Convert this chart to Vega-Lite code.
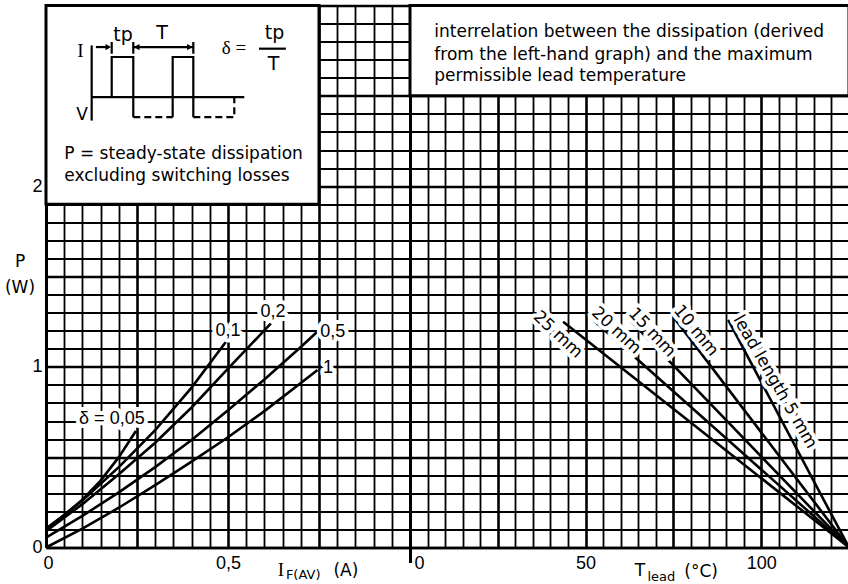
{
  "$schema": "https://vega.github.io/schema/vega-lite/v6.json",
  "background": "white",
  "padding": {"left": 4, "top": 3.5, "right": 0, "bottom": 0},
  "bounds": "flush",
  "spacing": 0,
  "config": {
    "view": {"stroke": null},
    "axis": {"gridColor": "black", "gridOpacity": 1, "domainColor": "black", "labelColor": "black", "labelFont": "Liberation Sans", "labelFontSize": 18, "ticks": false, "labelFlush": false, "labelOverlap": false, "tickCount": 200}
  },
  "datasets": {
    "curves": [
      {"d": "1", "I": 0, "P": 0}, {"d": "1", "I": 0.1, "P": 0.105}, {"d": "1", "I": 0.2, "P": 0.22}, {"d": "1", "I": 0.3, "P": 0.345}, {"d": "1", "I": 0.4, "P": 0.475}, {"d": "1", "I": 0.5, "P": 0.61}, {"d": "1", "I": 0.6, "P": 0.755}, {"d": "1", "I": 0.7, "P": 0.91}, {"d": "1", "I": 0.746, "P": 0.983},
      {"d": "0.5", "I": 0, "P": 0.055}, {"d": "0.5", "I": 0.1, "P": 0.175}, {"d": "0.5", "I": 0.2, "P": 0.305}, {"d": "0.5", "I": 0.3, "P": 0.445}, {"d": "0.5", "I": 0.4, "P": 0.595}, {"d": "0.5", "I": 0.5, "P": 0.76}, {"d": "0.5", "I": 0.6, "P": 0.93}, {"d": "0.5", "I": 0.7, "P": 1.11}, {"d": "0.5", "I": 0.746, "P": 1.196},
      {"d": "0.2", "I": 0, "P": 0.09}, {"d": "0.2", "I": 0.1, "P": 0.24}, {"d": "0.2", "I": 0.2, "P": 0.405}, {"d": "0.2", "I": 0.3, "P": 0.58}, {"d": "0.2", "I": 0.4, "P": 0.775}, {"d": "0.2", "I": 0.5, "P": 0.99}, {"d": "0.2", "I": 0.618, "P": 1.24},
      {"d": "0.1", "I": 0, "P": 0.1}, {"d": "0.1", "I": 0.1, "P": 0.26}, {"d": "0.1", "I": 0.2, "P": 0.445}, {"d": "0.1", "I": 0.3, "P": 0.65}, {"d": "0.1", "I": 0.4, "P": 0.885}, {"d": "0.1", "I": 0.495, "P": 1.14},
      {"d": "0.05", "I": 0, "P": 0.105}, {"d": "0.05", "I": 0.05, "P": 0.18}, {"d": "0.05", "I": 0.1, "P": 0.265}, {"d": "0.05", "I": 0.15, "P": 0.37}, {"d": "0.05", "I": 0.2, "P": 0.5}, {"d": "0.05", "I": 0.247, "P": 0.645}
    ],
    "leads": [
      {"lead": "25 mm", "T": 43.6, "P": 1.25}, {"lead": "25 mm", "T": 125, "P": 0},
      {"lead": "20 mm", "T": 52.4, "P": 1.255}, {"lead": "20 mm", "T": 125, "P": 0},
      {"lead": "15 mm", "T": 63, "P": 1.25}, {"lead": "15 mm", "T": 125, "P": 0},
      {"lead": "10 mm", "T": 75.2, "P": 1.27}, {"lead": "10 mm", "T": 125, "P": 0},
      {"lead": "5 mm", "T": 90.6, "P": 1.26}, {"lead": "5 mm", "T": 125, "P": 0}
    ],
    "frameL": [{"x1": 0, "x2": 0.75, "y1": 1.9, "y2": 3.0}],
    "frameR": [{"x1": 0, "x2": 125, "y1": 2.5, "y2": 3.0}],
    "inset": [
      {"seg": "axis", "kind": "s", "k": 0, "x": 0.1255, "y": 2.779}, {"seg": "axis", "kind": "s", "k": 1, "x": 0.1255, "y": 2.363},
      {"seg": "base", "kind": "s", "k": 0, "x": 0.1255, "y": 2.493}, {"seg": "base", "kind": "s", "k": 1, "x": 0.5448, "y": 2.493},
      {"seg": "p1", "kind": "s", "k": 0, "x": 0.1805, "y": 2.493}, {"seg": "p1", "kind": "s", "k": 1, "x": 0.1805, "y": 2.715}, {"seg": "p1", "kind": "s", "k": 2, "x": 0.2398, "y": 2.715}, {"seg": "p1", "kind": "s", "k": 3, "x": 0.2398, "y": 2.382},
      {"seg": "p2", "kind": "s", "k": 0, "x": 0.348, "y": 2.382}, {"seg": "p2", "kind": "s", "k": 1, "x": 0.348, "y": 2.715}, {"seg": "p2", "kind": "s", "k": 2, "x": 0.4047, "y": 2.715}, {"seg": "p2", "kind": "s", "k": 3, "x": 0.4047, "y": 2.382},
      {"seg": "d1", "kind": "d", "k": 0, "x": 0.2398, "y": 2.382}, {"seg": "d1", "kind": "d", "k": 1, "x": 0.348, "y": 2.382},
      {"seg": "d2", "kind": "d", "k": 0, "x": 0.4047, "y": 2.382}, {"seg": "d2", "kind": "d", "k": 1, "x": 0.5173, "y": 2.382}, {"seg": "d2", "kind": "d", "k": 2, "x": 0.5173, "y": 2.493},
      {"seg": "t1", "kind": "s", "k": 0, "x": 0.1805, "y": 2.798}, {"seg": "t1", "kind": "s", "k": 1, "x": 0.1805, "y": 2.733},
      {"seg": "t2", "kind": "s", "k": 0, "x": 0.2398, "y": 2.798}, {"seg": "t2", "kind": "s", "k": 1, "x": 0.2398, "y": 2.733},
      {"seg": "t3", "kind": "s", "k": 0, "x": 0.4047, "y": 2.798}, {"seg": "t3", "kind": "s", "k": 1, "x": 0.4047, "y": 2.733},
      {"seg": "a1", "kind": "s", "k": 0, "x": 0.137, "y": 2.77}, {"seg": "a1", "kind": "s", "k": 1, "x": 0.172, "y": 2.77},
      {"seg": "a2", "kind": "s", "k": 0, "x": 0.2398, "y": 2.77}, {"seg": "a2", "kind": "s", "k": 1, "x": 0.4047, "y": 2.77},
      {"seg": "bar", "kind": "s", "k": 0, "x": 0.585, "y": 2.761}, {"seg": "bar", "kind": "s", "k": 1, "x": 0.659, "y": 2.761}
    ],
    "heads": [
      {"dir": "right", "x": 0.171, "y": 2.77}, {"dir": "left", "x": 0.2494, "y": 2.77}, {"dir": "right", "x": 0.395, "y": 2.77}
    ],
    "textL": [
      {"g": "box", "x": 0.0503, "y": 2.15, "t": "P = steady-state dissipation"},
      {"g": "box", "x": 0.0503, "y": 2.029, "t": "excluding switching losses"},
      {"g": "serif", "x": 0.0948, "y": 2.715, "t": "I"},
      {"g": "serif", "x": 0.5165, "y": 2.733, "t": "δ  ="},
      {"g": "serif", "x": 0.6456, "y": -0.156, "t": "I"},
      {"g": "sans", "x": 0.0989, "y": 2.368, "t": "V"},
      {"g": "big", "x": 0.2115, "y": 2.806, "t": "tp"},
      {"g": "big", "x": 0.3187, "y": 2.813, "t": "T"},
      {"g": "big", "x": 0.628, "y": 2.817, "t": "tp"},
      {"g": "big", "x": 0.625, "y": 2.641, "t": "T"},
      {"g": "sans", "x": -0.0714, "y": 1.55, "t": "P"},
      {"g": "sans", "x": -0.0714, "y": 1.406, "t": "(W)"},
      {"g": "sans", "x": 0.824, "y": -0.156, "t": "(A)"},
      {"g": "sub", "x": 0.659, "y": -0.172, "t": "F(AV)"},
      {"g": "curve", "x": 0.181, "y": 0.711, "t": "δ = 0,05"},
      {"g": "curve", "x": 0.5, "y": 1.2, "t": "0,1"},
      {"g": "curve", "x": 0.6236, "y": 1.306, "t": "0,2"},
      {"g": "curve", "x": 0.788, "y": 1.194, "t": "0,5"},
      {"g": "curve", "x": 0.775, "y": 0.994, "t": "1"}
    ],
    "textR": [
      {"g": "box", "x": 6.92, "y": 2.826, "t": "interrelation between the dissipation (derived"},
      {"g": "box", "x": 6.92, "y": 2.7, "t": "from the left-hand graph) and the maximum"},
      {"g": "box", "x": 6.92, "y": 2.58, "t": "permissible lead temperature"},
      {"g": "sans", "x": 65.5, "y": -0.156, "t": "T"},
      {"g": "sans", "x": 82.9, "y": -0.161, "t": "(°C)"},
      {"g": "sub", "x": 67.6, "y": -0.183, "t": "lead"},
      {"g": "r43", "x": 42.1, "y": 1.178, "t": "25 mm"},
      {"g": "r43", "x": 58.7, "y": 1.2, "t": "20 mm"},
      {"g": "r47", "x": 68.9, "y": 1.19, "t": "15 mm"},
      {"g": "r51", "x": 81.4, "y": 1.2, "t": "10 mm"},
      {"g": "r60", "x": 103.9, "y": 0.917, "t": "lead length 5 mm"}
    ]
  },
  "hconcat": [
    {
      "width": 364,
      "height": 542,
      "layer": [
        {
          "data": {"name": "curves"},
          "mark": {"type": "line", "color": "black", "strokeWidth": 2.6},
          "encoding": {
            "x": {"field": "I", "type": "quantitative", "title": null, "scale": {"domain": [0, 1], "nice": false, "zero": false},
              "axis": {"title": null, "tickCount": 200, "values": [0, 0.05, 0.1, 0.15, 0.2, 0.25, 0.3, 0.35, 0.4, 0.45, 0.5, 0.55, 0.6, 0.65, 0.7, 0.75, 0.8, 0.85, 0.9, 0.95, 1.0],
                "labelExpr": "datum.value == 0 ? '0' : (datum.value == 0.5 ? '0,5' : '')", "labelPadding": 7, "domainWidth": 2.5, "grid": true,
                "labelFontSize": {"condition": {"test": "datum.value == 0 || datum.value == 0.5", "value": 18}, "value": 0},
                "gridWidth": {"condition": {"test": "abs(datum.value*4 - round(datum.value*4)) < 0.001", "value": 2.6}, "value": 1.8},
                "labelOffset": {"condition": {"test": "datum.value == 0", "value": 2}, "value": 0}}},
            "y": {"field": "P", "type": "quantitative", "title": null, "scale": {"domain": [0, 3], "nice": false, "zero": false},
              "axis": {"title": null, "tickCount": 200, "values": [0, 0.1, 0.2, 0.3, 0.4, 0.5, 0.6, 0.7, 0.8, 0.9, 1, 1.1, 1.2, 1.3, 1.4, 1.5, 1.6, 1.7, 1.8, 1.9, 2, 2.1, 2.2, 2.3, 2.4, 2.5, 2.6, 2.7, 2.8, 2.9, 3],
                "labelExpr": "datum.value == 0 ? '0' : (datum.value == 1 ? '1' : (datum.value == 2 ? '2' : ''))", "labelPadding": 4, "labelBaseline": "middle", "domainWidth": 3, "grid": true,
                "labelFontSize": {"condition": {"test": "datum.value == 0 || datum.value == 1 || datum.value == 2", "value": 18}, "value": 0},
                "gridWidth": {"condition": {"test": "abs(datum.value*2 - round(datum.value*2)) < 0.001", "value": 2.6}, "value": 1.8}}},
            "detail": {"field": "d"},
            "order": {"field": "I"}
          }
        },
        {
          "data": {"name": "frameL"},
          "mark": {"type": "rect", "fill": "white", "stroke": "black", "strokeWidth": 3},
          "encoding": {
            "x": {"field": "x1", "type": "quantitative", "title": null}, "x2": {"field": "x2"},
            "y": {"field": "y1", "type": "quantitative", "title": null}, "y2": {"field": "y2"}
          }
        },
        {
          "data": {"name": "inset"},
          "transform": [{"filter": "datum.kind == 's'"}],
          "mark": {"type": "line", "color": "black", "strokeWidth": 2.2},
          "encoding": {
            "x": {"field": "x", "type": "quantitative", "title": null},
            "y": {"field": "y", "type": "quantitative", "title": null},
            "detail": {"field": "seg"}, "order": {"field": "k"}
          }
        },
        {
          "data": {"name": "inset"},
          "transform": [{"filter": "datum.kind == 'd'"}],
          "mark": {"type": "line", "color": "black", "strokeWidth": 2.2, "strokeDash": [7, 4]},
          "encoding": {
            "x": {"field": "x", "type": "quantitative", "title": null},
            "y": {"field": "y", "type": "quantitative", "title": null},
            "detail": {"field": "seg"}, "order": {"field": "k"}
          }
        },
        {
          "data": {"name": "heads"},
          "transform": [{"filter": "datum.dir == 'right'"}],
          "mark": {"type": "point", "shape": "triangle-right", "filled": true, "color": "black", "size": 40, "opacity": 1},
          "encoding": {
            "x": {"field": "x", "type": "quantitative", "title": null},
            "y": {"field": "y", "type": "quantitative", "title": null}
          }
        },
        {
          "data": {"name": "heads"},
          "transform": [{"filter": "datum.dir == 'left'"}],
          "mark": {"type": "point", "shape": "triangle-left", "filled": true, "color": "black", "size": 40, "opacity": 1},
          "encoding": {
            "x": {"field": "x", "type": "quantitative", "title": null},
            "y": {"field": "y", "type": "quantitative", "title": null}
          }
        },
        {
          "data": {"name": "textL"},
          "transform": [{"filter": "datum.g == 'box'"}],
          "mark": {"type": "text", "font": "DejaVu Sans", "fontSize": 17, "align": "left", "baseline": "alphabetic", "color": "black"},
          "encoding": {
            "x": {"field": "x", "type": "quantitative", "title": null},
            "y": {"field": "y", "type": "quantitative", "title": null},
            "text": {"field": "t"}
          }
        },
        {
          "data": {"name": "textL"},
          "transform": [{"filter": "datum.g == 'serif'"}],
          "mark": {"type": "text", "font": "Liberation Serif", "fontSize": 19, "align": "center", "baseline": "alphabetic", "color": "black"},
          "encoding": {
            "x": {"field": "x", "type": "quantitative", "title": null},
            "y": {"field": "y", "type": "quantitative", "title": null},
            "text": {"field": "t"}
          }
        },
        {
          "data": {"name": "textL"},
          "transform": [{"filter": "datum.g == 'sans'"}],
          "mark": {"type": "text", "font": "DejaVu Sans", "fontSize": 17, "align": "center", "baseline": "alphabetic", "color": "black"},
          "encoding": {
            "x": {"field": "x", "type": "quantitative", "title": null},
            "y": {"field": "y", "type": "quantitative", "title": null},
            "text": {"field": "t"}
          }
        },
        {
          "data": {"name": "textL"},
          "transform": [{"filter": "datum.g == 'big'"}],
          "mark": {"type": "text", "font": "DejaVu Sans", "fontSize": 19, "align": "center", "baseline": "alphabetic", "color": "black"},
          "encoding": {
            "x": {"field": "x", "type": "quantitative", "title": null},
            "y": {"field": "y", "type": "quantitative", "title": null},
            "text": {"field": "t"}
          }
        },
        {
          "data": {"name": "textL"},
          "transform": [{"filter": "datum.g == 'sub'"}],
          "mark": {"type": "text", "font": "DejaVu Sans", "fontSize": 13, "align": "left", "baseline": "alphabetic", "color": "black"},
          "encoding": {
            "x": {"field": "x", "type": "quantitative", "title": null},
            "y": {"field": "y", "type": "quantitative", "title": null},
            "text": {"field": "t"}
          }
        },
        {
          "data": {"name": "textL"},
          "transform": [{"filter": "datum.g == 'curve'"}],
          "mark": {"type": "text", "font": "Liberation Sans", "fontSize": 18, "align": "center", "baseline": "middle", "fill": "white", "stroke": "white", "strokeWidth": 8, "strokeJoin": "round"},
          "encoding": {
            "x": {"field": "x", "type": "quantitative", "title": null},
            "y": {"field": "y", "type": "quantitative", "title": null},
            "text": {"field": "t"}
          }
        },
        {
          "data": {"name": "textL"},
          "transform": [{"filter": "datum.g == 'curve'"}],
          "mark": {"type": "text", "font": "Liberation Sans", "fontSize": 18, "align": "center", "baseline": "middle", "color": "black"},
          "encoding": {
            "x": {"field": "x", "type": "quantitative", "title": null},
            "y": {"field": "y", "type": "quantitative", "title": null},
            "text": {"field": "t"}
          }
        }
      ]
    },
    {
      "width": 439,
      "height": 542,
      "layer": [
        {
          "data": {"name": "leads"},
          "mark": {"type": "line", "color": "black", "strokeWidth": 2.6},
          "encoding": {
            "x": {"field": "T", "type": "quantitative", "title": null, "scale": {"domain": [0, 125], "nice": false, "zero": false},
              "axis": {"title": null, "tickCount": 200, "values": [0, 5, 10, 15, 20, 25, 30, 35, 40, 45, 50, 55, 60, 65, 70, 75, 80, 85, 90, 95, 100, 105, 110, 115, 120, 125],
                "labelExpr": "datum.value == 0 ? '0' : (datum.value == 50 ? '50' : (datum.value == 100 ? '100' : ''))", "labelPadding": -8, "domainWidth": 2.5, "grid": true,
                "labelFontSize": {"condition": {"test": "datum.value == 0 || datum.value == 50 || datum.value == 100", "value": 18}, "value": 0},
                "gridWidth": {"condition": {"test": "datum.value % 25 == 0", "value": 2.6}, "value": 1.8},
                "ticks": true, "tickSize": 15, "tickWidth": 3,
                "tickColor": {"condition": {"test": "datum.value == 0", "value": "black"}, "value": "transparent"},
                "labelOffset": {"condition": {"test": "datum.value == 0", "value": 9}, "value": 0}}},
            "y": {"field": "P", "type": "quantitative", "title": null, "scale": {"domain": [0, 3], "nice": false, "zero": false},
              "axis": {"title": null, "tickCount": 200, "values": [0, 0.1, 0.2, 0.3, 0.4, 0.5, 0.6, 0.7, 0.8, 0.9, 1, 1.1, 1.2, 1.3, 1.4, 1.5, 1.6, 1.7, 1.8, 1.9, 2, 2.1, 2.2, 2.3, 2.4, 2.5, 2.6, 2.7, 2.8, 2.9, 3],
                "labels": false, "domainWidth": 3, "grid": true,
                "gridWidth": {"condition": {"test": "abs(datum.value*2 - round(datum.value*2)) < 0.001", "value": 2.6}, "value": 1.8}}},
            "detail": {"field": "lead"}
          }
        },
        {
          "data": {"name": "frameR"},
          "mark": {"type": "rect", "fill": "white", "stroke": "black", "strokeWidth": 3},
          "encoding": {
            "x": {"field": "x1", "type": "quantitative", "title": null}, "x2": {"field": "x2"},
            "y": {"field": "y1", "type": "quantitative", "title": null}, "y2": {"field": "y2"}
          }
        },
        {
          "data": {"name": "textR"},
          "transform": [{"filter": "datum.g == 'box'"}],
          "mark": {"type": "text", "font": "DejaVu Sans", "fontSize": 17, "align": "left", "baseline": "alphabetic", "color": "black"},
          "encoding": {
            "x": {"field": "x", "type": "quantitative", "title": null},
            "y": {"field": "y", "type": "quantitative", "title": null},
            "text": {"field": "t"}
          }
        },
        {
          "data": {"name": "textR"},
          "transform": [{"filter": "datum.g == 'sans'"}],
          "mark": {"type": "text", "font": "DejaVu Sans", "fontSize": 17, "align": "center", "baseline": "alphabetic", "color": "black"},
          "encoding": {
            "x": {"field": "x", "type": "quantitative", "title": null},
            "y": {"field": "y", "type": "quantitative", "title": null},
            "text": {"field": "t"}
          }
        },
        {
          "data": {"name": "textR"},
          "transform": [{"filter": "datum.g == 'sub'"}],
          "mark": {"type": "text", "font": "DejaVu Sans", "fontSize": 13, "align": "left", "baseline": "alphabetic", "color": "black"},
          "encoding": {
            "x": {"field": "x", "type": "quantitative", "title": null},
            "y": {"field": "y", "type": "quantitative", "title": null},
            "text": {"field": "t"}
          }
        },
        {
          "data": {"name": "textR"},
          "transform": [{"filter": "datum.g == 'r43'"}],
          "mark": {"type": "text", "font": "DejaVu Sans", "fontSize": 17, "angle": 43, "align": "center", "baseline": "middle", "fill": "white", "stroke": "white", "strokeWidth": 8, "strokeJoin": "round"},
          "encoding": {"x": {"field": "x", "type": "quantitative", "title": null}, "y": {"field": "y", "type": "quantitative", "title": null}, "text": {"field": "t"}}
        },
        {
          "data": {"name": "textR"},
          "transform": [{"filter": "datum.g == 'r47'"}],
          "mark": {"type": "text", "font": "DejaVu Sans", "fontSize": 17, "angle": 47, "align": "center", "baseline": "middle", "fill": "white", "stroke": "white", "strokeWidth": 8, "strokeJoin": "round"},
          "encoding": {"x": {"field": "x", "type": "quantitative", "title": null}, "y": {"field": "y", "type": "quantitative", "title": null}, "text": {"field": "t"}}
        },
        {
          "data": {"name": "textR"},
          "transform": [{"filter": "datum.g == 'r51'"}],
          "mark": {"type": "text", "font": "DejaVu Sans", "fontSize": 17, "angle": 51, "align": "center", "baseline": "middle", "fill": "white", "stroke": "white", "strokeWidth": 8, "strokeJoin": "round"},
          "encoding": {"x": {"field": "x", "type": "quantitative", "title": null}, "y": {"field": "y", "type": "quantitative", "title": null}, "text": {"field": "t"}}
        },
        {
          "data": {"name": "textR"},
          "transform": [{"filter": "datum.g == 'r60'"}],
          "mark": {"type": "text", "font": "DejaVu Sans", "fontSize": 17, "angle": 60, "align": "center", "baseline": "middle", "fill": "white", "stroke": "white", "strokeWidth": 8, "strokeJoin": "round"},
          "encoding": {"x": {"field": "x", "type": "quantitative", "title": null}, "y": {"field": "y", "type": "quantitative", "title": null}, "text": {"field": "t"}}
        },
        {
          "data": {"name": "textR"},
          "transform": [{"filter": "datum.g == 'r43'"}],
          "mark": {"type": "text", "font": "DejaVu Sans", "fontSize": 17, "angle": 43, "align": "center", "baseline": "middle", "color": "black"},
          "encoding": {"x": {"field": "x", "type": "quantitative", "title": null}, "y": {"field": "y", "type": "quantitative", "title": null}, "text": {"field": "t"}}
        },
        {
          "data": {"name": "textR"},
          "transform": [{"filter": "datum.g == 'r47'"}],
          "mark": {"type": "text", "font": "DejaVu Sans", "fontSize": 17, "angle": 47, "align": "center", "baseline": "middle", "color": "black"},
          "encoding": {"x": {"field": "x", "type": "quantitative", "title": null}, "y": {"field": "y", "type": "quantitative", "title": null}, "text": {"field": "t"}}
        },
        {
          "data": {"name": "textR"},
          "transform": [{"filter": "datum.g == 'r51'"}],
          "mark": {"type": "text", "font": "DejaVu Sans", "fontSize": 17, "angle": 51, "align": "center", "baseline": "middle", "color": "black"},
          "encoding": {"x": {"field": "x", "type": "quantitative", "title": null}, "y": {"field": "y", "type": "quantitative", "title": null}, "text": {"field": "t"}}
        },
        {
          "data": {"name": "textR"},
          "transform": [{"filter": "datum.g == 'r60'"}],
          "mark": {"type": "text", "font": "DejaVu Sans", "fontSize": 17, "angle": 60, "align": "center", "baseline": "middle", "color": "black"},
          "encoding": {"x": {"field": "x", "type": "quantitative", "title": null}, "y": {"field": "y", "type": "quantitative", "title": null}, "text": {"field": "t"}}
        }
      ]
    }
  ]
}
